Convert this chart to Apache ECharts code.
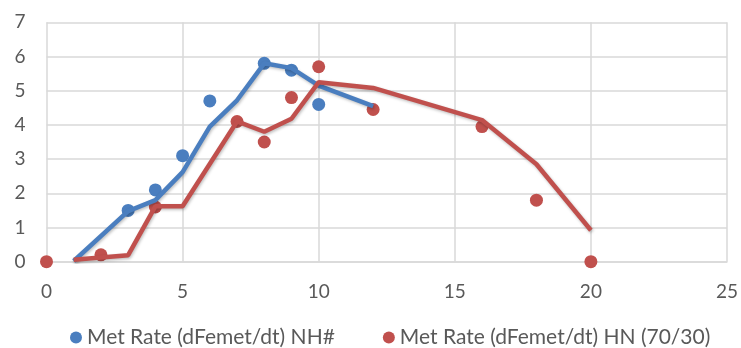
<!DOCTYPE html>
<html>
<head>
<meta charset="utf-8">
<script src="https://cdn.jsdelivr.net/npm/echarts@6/dist/echarts.min.js"></script>
<style>
  html, body { margin: 0; padding: 0; background: #fff; }
  #chart { width: 741px; height: 348px; }
</style>
</head>
<body>
<div id="chart"></div>
<script>
// Series names
const nameNH = 'Met Rate (dFemet/dt) NH#';
const nameHN = 'Met Rate (dFemet/dt) HN (70/30)';

// Measured points: NH#
const nhX = [3, 4, 5, 6, 8, 9, 10];
const nhY = [1.5, 2.1, 3.1, 4.7, 5.8, 5.6, 4.6];

// Measured points: HN (70/30)
const hnX = [0, 2, 4, 7, 8, 9, 10, 12, 16, 18, 20];
const hnY = [0, 0.2, 1.6, 4.1, 3.5, 4.8, 5.7, 4.45, 3.95, 1.8, 0];

// Trend lines (moving average)
const nhTrendX = [1, 3, 4, 5, 6, 7, 8, 9, 10, 12];
const nhTrendY = [0.02, 1.48, 1.8, 2.62, 3.95, 4.72, 5.8, 5.66, 5.15, 4.55];
const hnTrendX = [1, 3, 4, 5, 7, 8, 9, 10, 12, 16, 18, 20];
const hnTrendY = [0.06, 0.19, 1.62, 1.62, 4.1, 3.8, 4.18, 5.25, 5.08, 4.14, 2.85, 0.92];

// Axis ticks
const xMin = 0, xMax = 25, xStep = 5;
const yMin = 0, yMax = 7, yStep = 1;

const blue = '#4A7EBF';
const red = '#C0504D';
const zip = (xs, ys) => xs.map((x, i) => [x, ys[i]]);

const chart = echarts.init(document.getElementById('chart'));
const font = 'Lato';

function trend(name, xs, ys, color) {
  return {
    name: name + ' trend', type: 'line', data: zip(xs, ys),
    showSymbol: false, symbol: 'none', silent: true, z: 3,
    lineStyle: { color: color, width: 4.5, opacity: 1, shadowColor: 'rgba(0,0,0,0.25)', shadowBlur: 3, shadowOffsetX: 1, shadowOffsetY: 1.5 }
  };
}

chart.setOption({
  animation: false,
  backgroundColor: '#fff',
  grid: { left: 46.5, right: 10.5, top: 22.3, bottom: 86.3, containLabel: false },
  legend: {
    data: [
      { name: nameNH, icon: 'circle', itemStyle: { color: blue } },
      { name: nameHN, icon: 'circle', itemStyle: { color: red } }
    ],
    top: 322, left: 65, padding: 5,
    itemWidth: 12, itemHeight: 12, itemGap: 48,
    textStyle: { fontFamily: font, fontSize: 21, lineHeight: 21, color: '#595959', padding: [0, 0, 0, 0] }
  },
  xAxis: {
    type: 'value', min: xMin, max: xMax, interval: xStep,
    axisLine: { show: true, lineStyle: { color: '#D9D9D9', width: 1.5 } },
    axisTick: { show: false },
    splitLine: { show: true, lineStyle: { color: '#D9D9D9', width: 1.5 } },
    axisLabel: { fontFamily: font, fontSize: 19, color: '#595959', margin: 21 }
  },
  yAxis: {
    type: 'value', min: yMin, max: yMax, interval: yStep,
    axisLine: { show: false },
    axisTick: { show: false },
    splitLine: { show: true, lineStyle: { color: '#D9D9D9', width: 1.5 } },
    axisLabel: { fontFamily: font, fontSize: 19, color: '#595959', margin: 21 }
  },
  series: [
    trend(nameNH, nhTrendX, nhTrendY, blue),
    trend(nameHN, hnTrendX, hnTrendY, red),
    {
      name: nameNH, type: 'scatter', data: zip(nhX, nhY), symbolSize: 13, z: 2,
      itemStyle: { color: blue, opacity: 1 }
    },
    {
      name: nameHN, type: 'scatter', data: zip(hnX, hnY), symbolSize: 13, z: 2,
      itemStyle: { color: red, opacity: 1 }
    }
  ]
});
</script>
</body>
</html>
